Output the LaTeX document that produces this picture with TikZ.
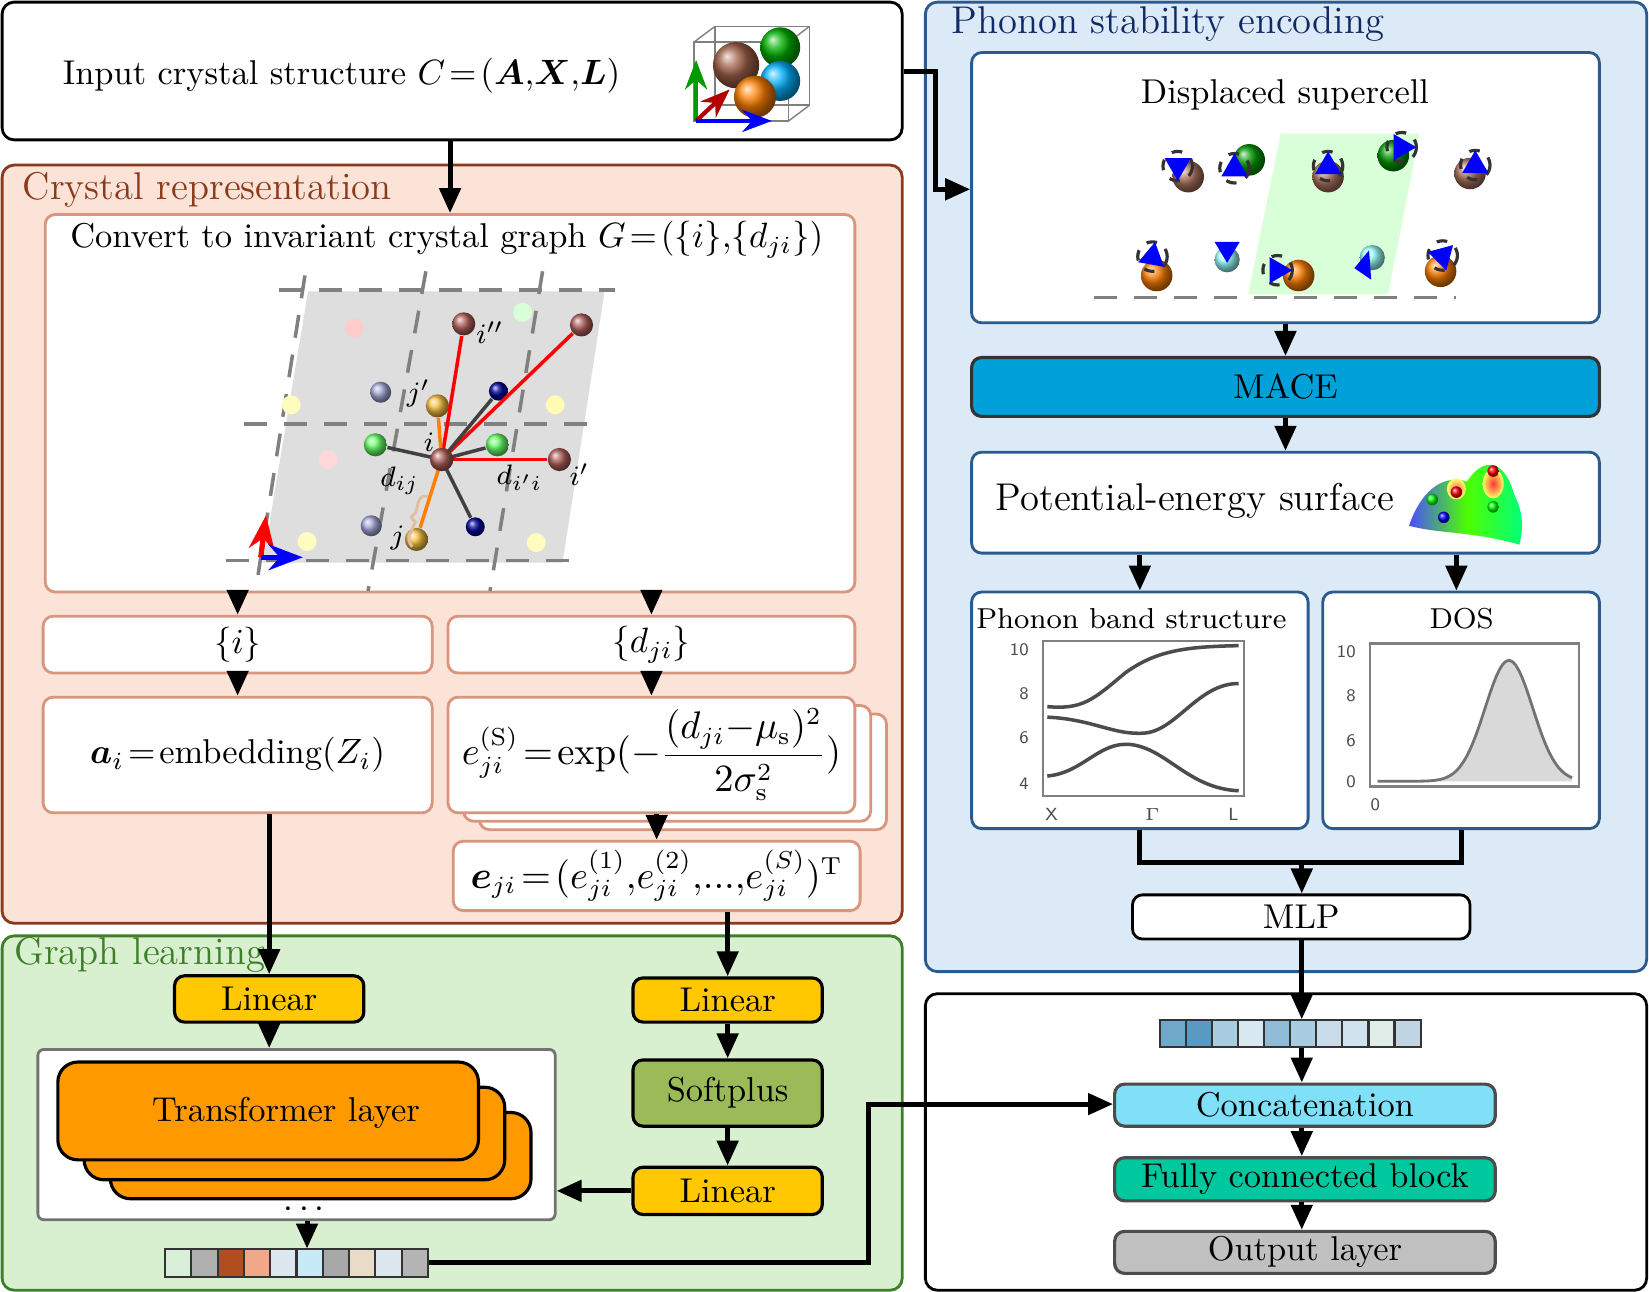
\documentclass[tikz,border=0pt]{standalone}
\usepackage{amsmath,amssymb,bm}
\usetikzlibrary{fit,calc,arrows.meta,shadings}
\definecolor{crysfill}{HTML}{FBE3D8}
\definecolor{crysline}{HTML}{8B3A1A}
\definecolor{crysbox}{HTML}{D9967E}
\definecolor{graphfill}{HTML}{D8F0D0}
\definecolor{graphline}{HTML}{3F7F2A}
\definecolor{phonfill}{HTML}{DCE9F6}
\definecolor{phonline}{HTML}{2A5B8C}
\definecolor{phontitle}{HTML}{102A66}
\definecolor{linyellow}{HTML}{FFC800}
\definecolor{softgreen}{HTML}{9BBB59}
\definecolor{transorange}{HTML}{FF9900}
\definecolor{macecol}{HTML}{00A0D8}
\definecolor{concatcol}{HTML}{80E0F8}
\definecolor{fccol}{HTML}{00C89E}
\definecolor{outcol}{HTML}{C0C0C0}
\definecolor{atombrown}{HTML}{B0605A}
\definecolor{atomyellow}{HTML}{F8C040}
\newcommand{\mainfont}{\fontsize{9.8}{11.5}\selectfont}
\newcommand{\bigfont}{\fontsize{11}{13}\selectfont}
\newcommand{\smallfont}{\fontsize{8.2}{9.5}\selectfont}
\newcommand{\eqfont}{\fontsize{10.5}{12.5}\selectfont}
\tikzset{
  arr/.style={-{Triangle[length=2.5mm,width=2.1mm]}, line width=1.4pt},
  container/.style={rounded corners=1.2mm, line width=0.8pt},
  box/.style={draw, rounded corners=1mm, inner sep=0pt, line width=0.8pt},
  crysbx/.style={box, draw=crysbox, fill=white},
  phonbx/.style={box, draw=phonline, fill=white},
  layer/.style={box, draw=black, line width=0.9pt},
  atom/.style={circle, shading=ball, minimum size=#1*0.10515mm, inner sep=0pt},
  dshed/.style={gray, line width=1pt, dash pattern=on 2.3mm off 1.7mm},
}
\begin{document}
\begin{tikzpicture}[x=0.10515mm, y=-0.10515mm, font=\mainfont]
\useasboundingbox (0,0) rectangle (1568.2,1228.7);

% Containers
\node[draw, container, fill=white, fit={(2,2)(858,133)}, inner sep=0] (input) {};
\node[anchor=west] (inputtxt) at (48,72) {Input crystal structure $C\!=\!(\bm{A},\!\bm{X},\!\bm{L})$};
\node[draw=crysline, container, fill=crysfill, fit={(2,157)(858,878)}, inner sep=0] (crys) {};
\node[anchor=west, text=crysline, font=\bigfont] (crystitle) at (10,181) {Crystal representation};
\node[draw=graphline, container, fill=graphfill, fit={(2,890)(858,1227)}, inner sep=0] (glearn) {};
\node[anchor=west, text=graphline, font=\bigfont] (gtitle) at (2,908) {Graph learning};
\node[draw=phonline, container, fill=phonfill, fit={(880,2)(1566,924)}, inner sep=0] (phon) {};
\node[anchor=west, text=phontitle, font=\bigfont] (ptitle) at (893,23) {Phonon stability encoding};
\node[draw, container, fill=white, fit={(880,945)(1566,1227)}, inner sep=0] (head) {};

% Crystal icon
\draw[gray] (680,25) rectangle (770,100) (660,40) rectangle (750,115);
\draw[gray] (660,40) -- (680,25) (750,40) -- (770,25) (750,115) -- (770,100) (660,115) -- (680,100);
\node[atom=44, ball color=crysline!80] (icb) at (700,62) {};
\node[atom=38, ball color=green!70!black] (icg) at (742,45) {};
\node[atom=38, ball color=cyan!70!blue] (icc) at (742,77) {};
\node[atom=40, ball color=orange] (ico) at (718,92) {};
\coordinate (icorig) at (662,115);
\draw[-Stealth, green!60!black, line width=1.2pt] (icorig) -- ++(0,-58);
\draw[-Stealth, red!70!black, line width=1.2pt] (icorig) -- ++(32,-30);
\draw[-Stealth, blue, line width=1.2pt] (icorig) -- ++(72,0);

% Crystal graph
\node[crysbx, fit={(43,204)(813,563)}] (graph) {};
\node[anchor=west] (graphtxt) at (55,228) {Convert to invariant crystal graph $G\!=\!(\{i\},\!\{d_{ji}\})$};
\fill[black!13] (293,277) -- (575,277) -- (535,535) -- (250,535) -- cycle;
\draw[dshed] (265,276) -- (585,276) (232,403) -- (562,403) (215,533) -- (545,533);
\draw[dshed] (290,262) -- (243,562) (405,258) -- (350,562) (516,258) -- (466,562);
\foreach \px/\py/\pc in {337/312/red!20, 497/297/green!15, 312/437/red!15, 528/385/yellow!30, 277/385/yellow!25, 292/515/yellow!25, 510/516/yellow!25}
  \fill[\pc] (\px,\py) circle (9);
\node[atom=20, ball color=gray!60!blue!50] (fb1) at (362,373) {};
\node[atom=20, ball color=gray!60!blue!50] (fb2) at (353,500) {};
\node[atom=22, ball color=atombrown] (ai) at (420,437) {};
\node[atom=22, ball color=atombrown] (aii) at (441,308) {};
\node[atom=22, ball color=atombrown] (atr) at (553,309) {};
\node[atom=22, ball color=atombrown] (aip) at (532,437) {};
\node[atom=22, ball color=atomyellow] (ajp) at (416,386) {};
\node[atom=22, ball color=atomyellow] (aj) at (396,513) {};
\node[atom=22, ball color=green!60] (ag1) at (357,423) {};
\node[atom=22, ball color=green!60] (ag2) at (473,423) {};
\node[atom=18, ball color=blue!60!black] (ab1) at (474,372) {};
\node[atom=18, ball color=blue!60!black] (ab2) at (452,501) {};
\foreach \t in {aii,atr,aip} \draw[red, line width=1pt] (ai.center) -- (\t);
\foreach \t in {ajp,aj} \draw[orange, line width=1pt] (ai.center) -- (\t);
\foreach \t in {ag1,ag2,ab1,ab2} \draw[black!75, line width=1pt] (ai.center) -- (\t);
\node[atom=22, ball color=atombrown] at (ai) {};
\node[font=\smallfont] (li) at (408,421) {$i$};
\node[font=\smallfont] (lii) at (466,316) {$i''$};
\node[font=\smallfont] (lip) at (551,451) {$i'$};
\node[font=\smallfont] (ljp) at (398,374) {$j'$};
\node[font=\smallfont] (lj) at (378,512) {$j$};
\node[font=\smallfont] (ldij) at (380,457) {$d_{ij}$};
\node[font=\smallfont] (ldip) at (494,454) {$d_{i'i}$};
\draw[brown!50, line width=0.8pt] (407,472) .. controls (397,470) and (398,480) .. (395,488) .. controls (390,492) .. (395,496) .. controls (392,505) and (385,512) .. (392,520);
\coordinate (gorig) at (248,530);
\draw[-Stealth, red, line width=1.5pt] (gorig) -- ++(5,-40);
\draw[-Stealth, blue, line width=1.5pt] (gorig) -- ++(40,0);

% Crystal representation boxes
\node[crysbx, fit={(41,586)(411,640)}] (iset) {};
\node (isettxt) at (iset) {$\{i\}$};
\node[crysbx, fit={(426,586)(813,640)}] (dset) {};
\node (dsettxt) at (dset) {$\{d_{ji}\}$};
\node[crysbx, fit={(41,663)(411,773)}] (emb) {};
\node (embtxt) at (emb) {$\bm{a}_i\!=\!\text{embedding}(Z_i)$};
\node[crysbx, fit={(456,679)(843,789)}] (rbf2) {};
\node[crysbx, fit={(441,671)(828,781)}] (rbf1) {};
\node[crysbx, fit={(426,663)(813,773)}] (rbf) {};
\node[font=\eqfont] (rbftxt) at (rbf) {$e^{(\mathrm{S})}_{ji}\!=\!\exp(-\dfrac{(d_{ji}{-}\mu_{\mathrm{s}})^2}{2\sigma_{\mathrm{s}}^2})$};
\node[crysbx, fit={(431,800)(818,866)}] (evec) {};
\node[font=\eqfont] (evectxt) at (evec) {$\bm{e}_{ji}\!=\!(e^{(1)}_{ji},\!e^{(2)}_{ji},\!...,\!e^{(S)}_{ji})^{\mathrm{T}}$};

% Graph learning
\node[layer, fill=linyellow, fit={(166,928)(346,972)}] (linA) {};
\node (linAtxt) at (linA) {Linear};
\node[layer, fill=linyellow, fit={(602,930)(782,972)}] (linB) {};
\node (linBtxt) at (linB) {Linear};
\node[layer, fill=softgreen, fit={(602,1008)(782,1071)}] (soft) {};
\node (softtxt) at (soft) {Softplus};
\node[layer, fill=linyellow, fit={(602,1110)(782,1155)}] (linC) {};
\node (linCtxt) at (linC) {Linear};
\node[box, draw=black!55, fill=white, rounded corners=0.6mm, fit={(36,998)(528,1160)}] (trans) {};
\node[layer, fill=transorange, rounded corners=2mm, fit={(105,1058)(505,1140)}] (tl3) {};
\node[layer, fill=transorange, rounded corners=2mm, fit={(80,1034)(480,1122)}] (tl2) {};
\node[layer, fill=transorange, rounded corners=2mm, fit={(55,1010)(455,1103)}] (tl1) {};
\node (tltxt) at (272,1058) {Transformer layer};
\node[inner sep=0] (dots) at (292,1150) {$\cdots$};
\foreach [count=\k from 0] \c in {D8F0D8,B0B0B0,B04E20,F0A888,DCE8EE,C8EAF8,A8A8A8,E8DCC8,DCE8EE,B4B4B4}{
  \definecolor{cellc}{HTML}{\c}
  \fill[fill=cellc, draw=black!80, line width=0.6pt] (157+25*\k,1188) rectangle ++(25,26);
}
\node[fit={(157,1188)(407,1214)}, inner sep=0] (gvec) {};

% Phonon stability encoding
\node[phonbx, fit={(924,50)(1521,307)}] (super) {};
\node (supertxt) at (1222,90) {Displaced supercell};
\fill[green!15] (1218,127) -- (1350,127) -- (1320,280) -- (1187,280) -- cycle;
\draw[dshed] (1040,283) -- (1385,283);
\foreach \ax/\ay/\ac/\dx/\dy/\rot in {1130/168/crysline!70/-10/-10/90, 1188/152/green!60!black/-14/8/-90, 1263/168/crysline!70/0/-10/-90, 1325/148/green!60!black/8/-8/0, 1398/165/crysline!70/5/-8/-90, 1100/262/orange/-4/-18/-80, 1235/262/orange/-20/-5/0, 1370/258/orange/2/-15/-45}{
  \node[atom=30, ball color=\ac] at (\ax,\ay) {};
  \draw[dashed, black!80, line width=0.9pt] (\ax+\dx,\ay+\dy) circle (14);
  \fill[blue] (\ax+\dx,\ay+\dy) ++(\rot:14) -- ++(\rot+150:25) -- ++(\rot-90:25) -- cycle;
}
\foreach \ax/\ay in {1167/247, 1305/245}
  \node[atom=24, ball color=cyan!40] at (\ax,\ay) {};
\fill[blue] (1167,250) -- (1155,230) -- (1179,230) -- cycle;
\fill[blue] (1288,255) -- (1302,238) -- (1304,266) -- cycle;
\node[layer, fill=macecol, draw=black!80, fit={(924,340)(1521,396)}] (mace) {};
\node (macetxt) at (mace) {MACE};
\node[phonbx, fit={(924,430)(1521,526)}] (pes) {};
\node[anchor=west, font=\bigfont] (pestxt) at (935,476) {Potential-energy surface};
\shade[left color=blue!70, right color=green!50!cyan, middle color=green!70!yellow] (1340,500) .. controls (1350,470) and (1370,450) .. (1395,458) .. controls (1410,435) and (1430,435) .. (1440,470) .. controls (1450,490) and (1448,505) .. (1445,518) .. controls (1400,505) and (1370,508) .. (1340,500);
\shade[inner color=red!80, outer color=yellow!60] (1420,460) ellipse (10 and 14);
\shade[inner color=red!60, outer color=yellow!60] (1385,465) ellipse (9 and 10);
\node[atom=11, ball color=green] at (1362,475) {};
\node[atom=11, ball color=red] at (1385,468) {};
\node[atom=11, ball color=blue] at (1373,492) {};
\node[atom=11, ball color=green] at (1420,482) {};
\node[atom=11, ball color=red] at (1420,448) {};

% Band structure plot
\node[phonbx, fit={(924,563)(1244,788)}] (band) {};
\node[font=\smallfont] (bandtxt) at (1076,588) {Phonon band structure};
\draw[black!50, line width=0.6pt] (992,610) rectangle (1183,757);
\foreach \yv/\yl in {618/10,660/8,702/6,745/4}
  \node[font=\tiny\sffamily, text=black!70, anchor=east] at (990,\yv) {\yl};
\foreach \xv/\xl in {1000/X,1096/$\Gamma$,1173/L}
  \node[font=\tiny\sffamily, text=black!70, anchor=north] at (\xv,757) {\xl};
\draw[black!70, line width=1pt] (996,672) .. controls (1030,675) and (1040,665) .. (1070,640) .. controls (1100,618) and (1130,615) .. (1178,614);
\draw[black!70, line width=1pt] (996,682) .. controls (1040,684) and (1060,700) .. (1090,697) .. controls (1120,693) and (1140,650) .. (1178,650);
\draw[black!70, line width=1pt] (996,738) .. controls (1030,735) and (1045,705) .. (1075,708) .. controls (1110,712) and (1130,750) .. (1178,752);

% DOS plot
\node[phonbx, fit={(1258,563)(1521,788)}] (dos) {};
\node[font=\smallfont] (dostxt) at (1390,588) {DOS};
\draw[black!50, line width=0.6pt] (1303,612) rectangle (1502,748);
\foreach \yv/\yl in {620/10,662/8,704/6,743/0}
  \node[font=\tiny\sffamily, text=black!70, anchor=east] at (1301,\yv) {\yl};
\node[font=\tiny\sffamily, text=black!70, anchor=north] at (1308,748) {0};
\fill[black!15] plot[domain=1310:1495, samples=60] (\x,{743-115*exp(-((\x-1435)/32)^2)}) -- (1495,743) -- (1310,743) -- cycle;
\draw[black!55, line width=0.8pt] plot[domain=1310:1495, samples=60] (\x,{743-115*exp(-((\x-1435)/32)^2)});

\node[box, draw=black, fill=white, fit={(1077,851)(1398,893)}] (mlp) {};
\node (mlptxt) at (mlp) {MLP};

% Prediction head
\foreach [count=\k from 0] \c in {6FA8C8,5A9AC0,A8CCE0,D8E8F0,90BCD8,A8CCE0,C8DCEA,D0E2EE,E0ECE8,C0D4E4}{
  \definecolor{cellc}{HTML}{\c}
  \fill[fill=cellc, draw=black!80, line width=0.6pt] (1103+24.8*\k,970) rectangle ++(24.8,26);
}
\node[fit={(1103,970)(1351,996)}, inner sep=0] (pvec) {};
\node[layer, fill=concatcol, draw=black!70, fit={(1060,1031)(1422,1071)}] (concat) {};
\node (concattxt) at (concat) {Concatenation};
\node[layer, fill=fccol, draw=black!70, fit={(1060,1101)(1422,1142)}] (fc) {};
\node (fctxt) at (fc) {Fully connected block};
\node[layer, fill=outcol, draw=black!70, fit={(1060,1171)(1422,1211)}] (out) {};
\node (outtxt) at (out) {Output layer};

% Connectors
\coordinate (cx428) at (428,0);
\coordinate (cy68) at (0,68);
\coordinate (cy180) at (0,180);
\coordinate (cy1050) at (0,1050);
\coordinate (cx1238) at (1238,0);
\coordinate (cx1385) at (1385,0);
\coordinate (cx1084) at (1084,0);
\coordinate (cx1390) at (1390,0);
\draw[arr] (input.south -| cx428) -- (graph.north -| cx428);
\draw[arr] (input.east |- cy68) -| (890,180) -- (super.west |- cy180);
\draw[arr] (graph.south -| iset) -- (iset);
\draw[arr] (graph.south -| dset) -- (dset);
\draw[arr] (iset) -- (emb);
\draw[arr] (dset) -- (rbf);
\draw[arr] (rbf.south -| evec) -- (evec);
\draw[arr] (emb.south -| linA) -- (linA);
\draw[arr] (evec.south -| linB) -- (linB);
\draw[arr] (linA) -- (trans.north -| linA);
\draw[arr] (linB) -- (soft);
\draw[arr] (soft) -- (linC);
\draw[arr] (linC) -- (trans.east |- linC);
\draw[arr] (trans.south -| dots) -- (gvec.north -| dots);
\draw[arr] (gvec.east) -- (826,1201) -- (826,1050) -- (concat.west |- cy1050);
\draw[arr] (super.south -| mace) -- (mace);
\draw[arr] (mace) -- (pes.north -| mace);
\draw[arr] (pes.south -| band) -- (band);
\draw[arr] (pes.south -| cx1385) -- (dos.north -| cx1385);
\draw[line width=1.4pt] (band.south -| cx1084) -- (1084,820) -- (1390,820) -- (dos.south -| cx1390);
\draw[arr] (1238,820) -- (mlp.north -| cx1238);
\draw[arr] (mlp.south -| cx1238) -- (pvec.north -| cx1238);
\draw[arr] (pvec.south -| cx1238) -- (concat.north -| cx1238);
\draw[arr] (concat.south -| cx1238) -- (fc.north -| cx1238);
\draw[arr] (fc.south -| cx1238) -- (out.north -| cx1238);
\end{tikzpicture}
\end{document}
